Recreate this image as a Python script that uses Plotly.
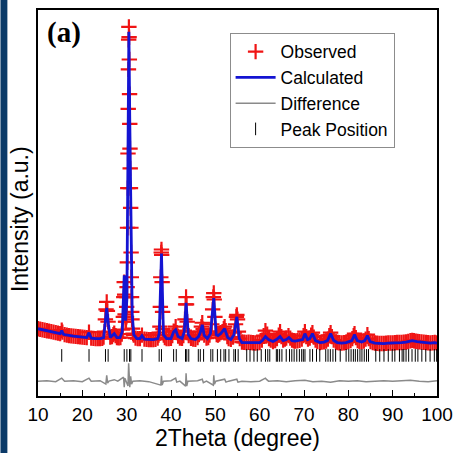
import plotly.graph_objects as go

# ---------------- data ----------------
# Observed pattern (2theta in degree, intensity in arbitrary units)
obs_2theta = [
    10.0, 10.5, 11.0, 11.5, 12.0, 12.5, 13.0, 13.5, 14.0, 14.5, 15.0, 15.35, 15.5, 16.0, 16.5, 17.0,
    17.5, 18.0, 18.5, 19.0, 19.5, 20.0, 20.5, 21.0, 21.5, 22.0, 22.5, 23.0, 23.5, 24.0, 24.5, 24.8,
    25.0, 25.2, 25.35, 25.5, 25.65, 25.8, 26.0, 26.3, 26.7, 27.0, 27.2, 27.5, 27.8, 28.2, 28.6, 28.9,
    29.1, 29.25, 29.35, 29.45, 29.55, 29.65, 29.75, 29.85, 29.95, 30.0, 30.05, 30.1, 30.15, 30.2,
    30.25, 30.3, 30.35, 30.4, 30.45, 30.5, 30.55, 30.6, 30.65, 30.7, 30.75, 30.8, 30.85, 30.9, 30.95,
    31.0, 31.05, 31.1, 31.15, 31.2, 31.3, 31.45, 31.6, 32.0, 32.5, 33.0, 33.45, 34.0, 34.5, 35.0,
    35.5, 36.0, 36.5, 37.0, 37.2, 37.35, 37.5, 37.6, 37.7, 37.8, 37.85, 37.9, 38.0, 38.1, 38.2, 38.35,
    38.6, 39.0, 39.5, 40.0, 40.3, 40.6, 40.8, 41.05, 41.3, 41.6, 42.0, 42.5, 42.8, 43.0, 43.15, 43.3,
    43.4, 43.5, 43.65, 43.8, 44.0, 44.5, 45.0, 45.5, 46.0, 46.3, 46.6, 46.85, 47.05, 47.25, 47.5, 48.0,
    48.4, 48.7, 48.95, 49.2, 49.4, 49.55, 49.65, 49.75, 49.9, 50.1, 50.3, 50.6, 50.9, 51.2, 51.6, 51.9,
    52.1, 52.35, 52.7, 53.0, 53.5, 54.0, 54.3, 54.55, 54.75, 54.85, 55.0, 55.2, 55.5, 56.0, 56.5, 57.0,
    57.5, 58.0, 58.5, 59.0, 59.5, 60.0, 60.5, 60.9, 61.3, 61.7, 62.1, 62.5, 63.0, 63.5, 63.9, 64.3,
    64.6, 64.9, 65.3, 65.7, 66.0, 66.5, 66.9, 67.3, 67.7, 68.0, 68.5, 69.0, 69.5, 69.9, 70.2, 70.5,
    70.9, 71.3, 71.6, 71.9, 72.2, 72.6, 73.0, 73.6, 74.0, 74.5, 75.0, 75.4, 75.7, 76.0, 76.3, 76.7,
    77.2, 77.6, 78.0, 78.5, 79.0, 79.5, 80.0, 80.5, 80.9, 81.2, 81.4, 81.7, 82.1, 82.5, 83.0, 83.5,
    83.9, 84.3, 84.6, 85.0, 85.5, 86.0, 86.5, 87.0, 87.5, 88.0, 88.5, 89.0, 89.5, 90.0, 90.5, 91.0,
    91.5, 92.0, 92.5, 93.0, 93.5, 94.0, 94.4, 94.8, 95.2, 95.6, 96.0, 96.5, 97.0, 97.5, 98.0, 98.5,
    99.0, 99.5, 100.0,
]
obs_intensity = [
    1060, 1050, 1040, 1030, 1020, 1010, 1000, 990, 980, 970, 960, 1030, 990, 940, 930, 920,
    915, 910, 905, 900, 895, 890, 885, 880, 990, 870, 865, 860, 860, 860, 865, 890,
    1000, 1250, 1450, 1600, 1420, 1200, 990, 890, 900, 940, 970, 920, 880, 875, 880, 950,
    1040, 1300, 1700, 2000, 1750, 1350, 1200, 1200, 1300, 1500, 1700, 1900, 2400, 3100,
    3900, 4600, 5500, 6300, 6900, 7160, 6950, 6500, 5800, 5200, 4700, 4300, 3900, 3500, 3100,
    2600, 2100, 1700, 1400, 1250, 1060, 960, 930, 870, 860, 860, 930, 850, 845, 840,
    840, 840, 845, 870, 930, 980, 1100, 1500, 2100, 2600, 2660, 2550, 2000, 1400, 1050, 930,
    880, 860, 860, 865, 920, 1010, 1000, 1100, 980, 910, 870, 865, 920, 1020, 1250, 1550,
    1700, 1550, 1200, 1000, 920, 865, 850, 845, 880, 940, 1000, 1100, 1180, 1050, 930, 870,
    880, 930, 1000, 1150, 1450, 1700, 1780, 1650, 1300, 1000, 940, 930, 950, 980, 1000, 1060,
    1100, 1020, 900, 860, 845, 890, 980, 1150, 1300, 1340, 1250, 1000, 860, 790, 785, 780,
    785, 780, 775, 770, 775, 780, 830, 920, 1020, 950, 860, 830, 800, 820, 860, 930,
    1000, 900, 830, 850, 870, 920, 870, 830, 815, 810, 815, 825, 850, 920, 1000, 900,
    850, 870, 930, 980, 890, 830, 800, 780, 790, 795, 810, 850, 920, 980, 900, 830,
    790, 780, 775, 770, 775, 785, 800, 820, 860, 920, 960, 880, 820, 805, 795, 810,
    850, 940, 860, 800, 780, 770, 765, 760, 760, 760, 765, 770, 770, 770, 775, 780,
    780, 780, 785, 790, 800, 815, 825, 815, 805, 800, 795, 790, 785, 780, 775, 770,
    775, 780, 770,
]

# Calculated profile
calc_2theta = [
    10, 11, 12, 13, 14, 15, 15.35, 15.7, 16, 17, 18, 19, 20, 21, 21.5, 22, 23, 24, 24.8, 25.1, 25.5,
    25.9, 26.3, 27.2, 27.8, 28.5, 29.0, 29.45, 29.75, 30.05, 30.3, 30.5, 30.7, 30.95, 31.25, 31.6,
    32.3, 33.0, 33.45, 34, 35, 36, 37.0, 37.35, 37.85, 38.3, 39, 40, 40.6, 41.05, 41.6, 42.5, 43.0,
    43.4, 43.9, 44.5, 45.5, 46.2, 46.6, 47.05, 47.5, 48.2, 48.9, 49.65, 50.2, 50.6, 51.2, 52.1, 52.8,
    53.5, 54.2, 54.85, 55.4, 56, 57, 58, 59, 60, 60.6, 61.3, 62.0, 62.4, 63.0, 63.8, 64.6, 65.3, 66.0,
    66.6, 67.3, 68.0, 69.0, 69.7, 70.2, 70.8, 71.3, 71.9, 72.6, 73.6, 74.5, 75.3, 76.0, 76.7, 77.5,
    78.5, 79.5, 80.3, 80.8, 81.4, 82.0, 83.0, 83.7, 84.3, 84.9, 86, 87, 88, 89, 90, 91, 92, 93, 94.4,
    95.5, 96.5, 97.5, 98.5, 99.4, 100,
]
calc_intensity = [
    1060, 1040, 1020, 1000, 980, 960, 1020, 950, 940, 920, 910, 900, 890, 880, 980, 870, 860, 860, 880, 1160, 1480,
    1140, 880, 960, 880, 880, 1000, 2140, 1220, 1660, 4460, 7060, 5260, 3160, 1360, 940,
    860, 860, 920, 850, 840, 840, 860, 960, 2580, 940, 860, 860, 1000, 1040, 900, 860, 1000,
    1580, 940, 860, 840, 900, 980, 1140, 920, 860, 960, 1680, 940, 920, 960, 1060, 880,
    840, 940, 1300, 860, 780, 780, 780, 770, 780, 820, 900, 840, 820, 800, 840, 900, 820, 840,
    880, 820, 810, 820, 840, 960, 840, 860, 960, 820, 780, 790, 820, 960, 820, 780,
    770, 780, 800, 820, 940, 820, 790, 820, 920, 800, 770, 760, 760, 770, 770, 780, 780, 790, 820,
    800, 790, 780, 770, 780, 770,
]

# Difference curve (Observed - Calculated)
diff_2theta = [
    10, 12, 14, 15.35, 16, 18, 20, 21.5, 22, 24, 25.3, 25.5, 25.7, 26, 27.2, 28, 29.3, 29.45, 29.6,
    29.9, 30.3, 30.45, 30.55, 30.7, 30.9, 31.1, 31.4, 33, 35, 37.7, 37.85, 38.0, 38.3, 40, 41.05,
    41.3, 42, 43.3, 43.4, 43.55, 43.8, 46, 47.05, 47.3, 48, 49.55, 49.65, 49.8, 50.1, 52.1, 52.4, 53,
    54.85, 55.1, 56, 58, 60, 61.3, 61.6, 62, 64, 66, 68, 70.2, 72, 74, 76, 78, 80, 82, 84, 86, 88, 90,
    92, 94, 96, 98, 100,
]
diff_intensity = [
    0, 10, -10, 60, 0, 10, -10, 60, 0, 10, -60, 120, -40, 0, 30, 0, 80, -120, 60,
    0, -100, 360, 200, -120, 100, -60, 0, 10, -10, -80, 110, -80, 0, 10, 60,
    -20, 0, -100, 160, -100, 0, 10, 40, -30, 0, -80, 120, -60, 0, 40, -20, 0,
    40, -20, 0, -10, 0, 60, 30, 0, 10, -10, 10, 20, -10, 0, -20, 10, 0, 10, -10, 0, 10, 0,
    10, 20, 0, -10, 10,
]

# Bragg peak positions (2theta)
peak_positions = [
    15.35, 21.51, 25.22, 25.82, 29.45, 30.05, 30.64, 30.94, 33.46, 37.33, 37.85, 40.59, 41.19,
    43.27, 43.56, 44.01, 46.16, 46.61, 47.35, 48.98, 49.43, 50.47, 51.21, 51.95, 52.33, 53.07,
    54.18, 54.55, 55.15, 57.08, 57.82, 58.71, 59.46, 60.35, 61.31, 61.83, 62.28, 63.76, 64.06,
    64.50, 65.02, 65.99, 66.73, 67.25, 67.77, 68.37, 68.96, 69.48, 69.85, 70.22, 71.34, 71.93,
    72.82, 73.56, 74.90, 75.42, 75.94, 76.53, 77.13, 78.17, 79.50, 80.10, 80.62, 81.14, 81.58,
    82.10, 82.62, 83.07, 83.59, 84.11, 84.55, 86.19, 87.08, 88.04, 89.01, 89.90, 90.49, 91.53,
    92.13, 92.50, 93.02, 93.61, 94.36, 95.10, 95.69, 96.58, 97.47, 98.44, 99.40, 99.92,
]
peak_row_level = 520  # intensity level at which the tick marks are drawn

x_ticks = [10, 20, 30, 40, 50, 60, 70, 80, 90, 100]

# ---------------- figure ----------------
fig = go.Figure()

fig.add_trace(go.Scatter(
    x=obs_2theta, y=obs_intensity, mode="markers", name="Observed",
    marker=dict(symbol="cross-thin", size=11, color="#f01414",
                line=dict(color="#f01414", width=2.2)),
))
fig.add_trace(go.Scatter(
    x=calc_2theta, y=calc_intensity, mode="lines", name="Calculated",
    line=dict(color="#1414d2", width=2.8),
))
fig.add_trace(go.Scatter(
    x=diff_2theta, y=diff_intensity, mode="lines", name="Difference",
    line=dict(color="#8a8a8a", width=1.5),
))
fig.add_trace(go.Scatter(
    x=peak_positions, y=[peak_row_level] * len(peak_positions), mode="markers",
    name="Peak Position",
    marker=dict(symbol="line-ns", size=9, color="black",
                line=dict(color="black", width=1)),
))

L, R, T, B = 38, 19, 8, 55
W, H = 461, 453
pw, ph = W - L - R, H - T - B

fig.update_layout(
    width=W, height=H,
    margin=dict(l=L, r=R, t=T, b=B),
    paper_bgcolor="white", plot_bgcolor="white",
    font=dict(family="Liberation Sans, Arial, sans-serif", color="black"),
    showlegend=True,
    legend=dict(
        x=(232 - L) / pw, y=(H - B - 31) / ph, xanchor="left", yanchor="top",
        bgcolor="white", bordercolor="#8c8c8c", borderwidth=1,
        font=dict(size=17.5, color="black"),
        itemwidth=40,
    ),
    xaxis=dict(
        range=[10, 100], tickvals=x_ticks, ticktext=[str(v) for v in x_ticks],
        ticks="inside", ticklen=6, tickwidth=1.3, tickcolor="black",
        minor=dict(dtick=5, ticks="inside", ticklen=3, tickwidth=1.3, tickcolor="black"),
        showline=True, linecolor="black", linewidth=1.5, mirror=True,
        showgrid=False, zeroline=False,
        tickfont=dict(size=19),
        title=dict(text="2Theta (degree)", font=dict(size=23), standoff=4),
    ),
    yaxis=dict(
        range=[-300, 7500], showticklabels=False, ticks="",
        showline=True, linecolor="black", linewidth=1.5, mirror=True,
        showgrid=False, zeroline=False,
    ),
    shapes=[dict(
        type="rect", xref="paper", yref="paper",
        x0=(0 - L) / pw, x1=(7 - L) / pw, y0=(H - B - H - 5) / ph, y1=(H - B + 5) / ph,
        fillcolor="#0b3a68", line=dict(width=0), layer="above",
    )],
    annotations=[
        dict(text="<b>(a)</b>", xref="paper", yref="paper",
             x=(45 - L) / pw, y=(H - B - 12) / ph, xanchor="left", yanchor="top",
             showarrow=False,
             font=dict(family="Liberation Serif, Times New Roman, serif", size=29, color="black"),
             ),
        dict(text="Intensity (a.u.)", xref="paper", yref="paper",
             x=(20 - L) / pw, y=(H - B - 219) / ph, xanchor="center", yanchor="middle",
             textangle=-90, showarrow=False, font=dict(size=23, color="black")),
    ],
)

fig.write_html(
    "out.html",
    config={"displayModeBar": False},
    post_script="document.body.style.margin='0px';document.body.style.overflow='hidden';",
)
